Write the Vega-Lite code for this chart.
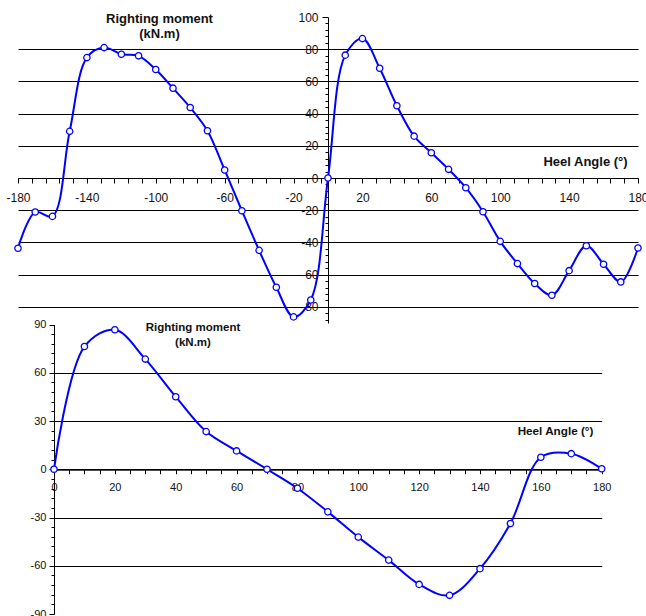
{
  "$schema": "https://vega.github.io/schema/vega-lite/v6.json",
  "width": 646,
  "height": 616,
  "autosize": "none",
  "padding": 0,
  "background": "white",
  "config": {
    "view": {"stroke": null},
    "font": "Liberation Sans",
    "axis": {
      "labelFont": "Liberation Sans",
      "titleFont": "Liberation Sans",
      "labelColor": "#111111",
      "titleColor": "#111111",
      "domainColor": "#000000",
      "domainWidth": 1,
      "tickColor": "#000000",
      "tickWidth": 1,
      "gridColor": "#000000",
      "gridWidth": 1,
      "labelOverlap": false,
      "labelFlush": false,
      "labelBound": false,
      "titleFontWeight": "bold"
    }
  },
  "datasets": {
    "top": [
      {"angle": -180, "moment": -43.6}, {"angle": -170, "moment": -21.1}, {"angle": -160, "moment": -23.8},
      {"angle": -150, "moment": 29.0}, {"angle": -140, "moment": 74.8}, {"angle": -130, "moment": 81.0},
      {"angle": -120, "moment": 76.9}, {"angle": -110, "moment": 75.9}, {"angle": -100, "moment": 67.4},
      {"angle": -90, "moment": 55.8}, {"angle": -80, "moment": 43.8}, {"angle": -70, "moment": 29.4},
      {"angle": -60, "moment": 5.0}, {"angle": -50, "moment": -20.3}, {"angle": -40, "moment": -44.9},
      {"angle": -30, "moment": -67.8}, {"angle": -20, "moment": -86.2}, {"angle": -10, "moment": -75.7},
      {"angle": 0, "moment": 0}, {"angle": 10, "moment": 76.3}, {"angle": 20, "moment": 86.6},
      {"angle": 30, "moment": 68.2}, {"angle": 40, "moment": 44.9}, {"angle": 50, "moment": 26.0},
      {"angle": 60, "moment": 15.7}, {"angle": 70, "moment": 5.4}, {"angle": 80, "moment": -6.0},
      {"angle": 90, "moment": -20.9}, {"angle": 100, "moment": -39.3}, {"angle": 110, "moment": -53.1},
      {"angle": 120, "moment": -65.5}, {"angle": 130, "moment": -72.8}, {"angle": 140, "moment": -57.5},
      {"angle": 150, "moment": -42.0}, {"angle": 160, "moment": -53.5}, {"angle": 170, "moment": -64.5},
      {"angle": 180, "moment": -43.4}
    ],
    "bottom": [
      {"angle": 0, "moment": 0}, {"angle": 10, "moment": 76.3}, {"angle": 20, "moment": 86.7},
      {"angle": 30, "moment": 68.5}, {"angle": 40, "moment": 45.1}, {"angle": 50, "moment": 23.4},
      {"angle": 60, "moment": 11.4}, {"angle": 70, "moment": 0}, {"angle": 80, "moment": -11.8},
      {"angle": 90, "moment": -26.5}, {"angle": 100, "moment": -42.2}, {"angle": 110, "moment": -56.5},
      {"angle": 120, "moment": -71.6}, {"angle": 130, "moment": -78.4}, {"angle": 140, "moment": -61.8},
      {"angle": 150, "moment": -33.7}, {"angle": 160, "moment": 7.5}, {"angle": 170, "moment": 9.7},
      {"angle": 180, "moment": 0.3}
    ]
  },
  "layer": [
    {
      "data": {"name": "top"},
      "mark": {
        "type": "line",
        "interpolate": "catmull-rom",
        "color": "#0000FF",
        "strokeWidth": 2,
        "point": {"filled": false, "fill": "white", "stroke": "#0000FF", "strokeWidth": 1.3, "size": 40, "opacity": 1}
      },
      "encoding": {
        "x": {
          "field": "angle",
          "type": "quantitative",
          "scale": {"domain": [-180, 180], "range": [18, 638], "nice": false, "zero": false},
          "axis": {
            "orient": "bottom",
            "offset": -438,
            "values": [-180,-172,-164,-156,-148,-140,-132,-124,-116,-108,-100,-92,-84,-76,-68,-60,-52,-44,-36,-28,-20,-12,-4,4,12,20,28,36,44,52,60,68,76,84,92,100,108,116,124,132,140,148,156,164,172,180],
            "labelExpr": "(datum.value + 180) % 40 == 0 ? '' + datum.value : ''",
            "labelFontSize": 12,
            "tickSize": 5,
            "labelPadding": 9,
            "grid": false,
            "title": "Heel Angle (°)",
            "titleFontSize": 13,
            "titleX": 585,
            "titleY": -12.4,
            "titleAlign": "center",
            "titleBaseline": "alphabetic",
            "titleAngle": 0
          }
        },
        "y": {
          "field": "moment",
          "type": "quantitative",
          "scale": {"domain": [-90, 100], "range": [323, 17], "nice": false, "zero": false},
          "axis": {
            "orient": "left",
            "offset": -328,
            "values": [-88,-84,-80,-76,-72,-68,-64,-60,-56,-52,-48,-44,-40,-36,-32,-28,-24,-20,-16,-12,-8,-4,0,4,8,12,16,20,24,28,32,36,40,44,48,52,56,60,64,68,72,76,80,84,88,92,96,100],
            "labelExpr": "datum.value % 20 == 0 ? '' + datum.value : ''",
            "labelFontSize": 12,
            "tickSize": {"condition": {"test": "datum.value % 20 == 0", "value": 6}, "value": 3},
            "labelPadding": 4,
            "grid": true,
            "gridOpacity": {"condition": {"test": "datum.value % 20 == 0 && datum.value < 100", "value": 1}, "value": 0},
            "title": ["Righting moment", "(kN.m)"],
            "titleFontSize": 13,
            "titleLineHeight": 15,
            "titleX": -169,
            "titleY": 22.6,
            "titleAlign": "center",
            "titleBaseline": "alphabetic",
            "titleAngle": 0
          }
        }
      }
    },
    {
      "data": {"name": "bottom"},
      "mark": {
        "type": "line",
        "interpolate": "catmull-rom",
        "color": "#0000FF",
        "strokeWidth": 2,
        "point": {"filled": false, "fill": "white", "stroke": "#0000FF", "strokeWidth": 1.3, "size": 40, "opacity": 1}
      },
      "encoding": {
        "x": {
          "field": "angle",
          "type": "quantitative",
          "scale": {"domain": [0, 180], "range": [54, 601.7], "nice": false, "zero": false},
          "axis": {
            "orient": "bottom",
            "offset": -146.3,
            "values": [0,5,10,15,20,25,30,35,40,45,50,55,60,65,70,75,80,85,90,95,100,105,110,115,120,125,130,135,140,145,150,155,160,165,170,175,180],
            "labelExpr": "datum.value % 20 == 0 ? '' + datum.value : ''",
            "labelFontSize": 11,
            "tickSize": 4,
            "labelPadding": 8,
            "grid": false,
            "title": "Heel Angle (°)",
            "titleFontSize": 11.7,
            "titleX": 555,
            "titleY": -35.2,
            "titleAlign": "center",
            "titleBaseline": "alphabetic",
            "titleAngle": 0
          }
        },
        "y": {
          "field": "moment",
          "type": "quantitative",
          "scale": {"domain": [-90, 90], "range": [614, 324.5], "nice": false, "zero": false},
          "axis": {
            "orient": "left",
            "offset": -54,
            "values": [-90,-84,-78,-72,-66,-60,-54,-48,-42,-36,-30,-24,-18,-12,-6,0,6,12,18,24,30,36,42,48,54,60,66,72,78,84,90],
            "labelExpr": "datum.value % 30 == 0 ? '' + datum.value : ''",
            "labelFontSize": 11,
            "tickSize": {"condition": {"test": "datum.value % 30 == 0", "value": 5}, "value": 3},
            "labelPadding": 3,
            "grid": true,
            "gridOpacity": {"condition": {"test": "datum.value % 30 == 0 && abs(datum.value) < 90", "value": 1}, "value": 0},
            "title": ["Righting moment", "(kN.m)"],
            "titleFontSize": 11.5,
            "titleLineHeight": 14.5,
            "titleX": 138.5,
            "titleY": 330.5,
            "titleAlign": "center",
            "titleBaseline": "alphabetic",
            "titleAngle": 0
          }
        }
      }
    }
  ],
  "resolve": {"scale": {"x": "independent", "y": "independent"}}
}
